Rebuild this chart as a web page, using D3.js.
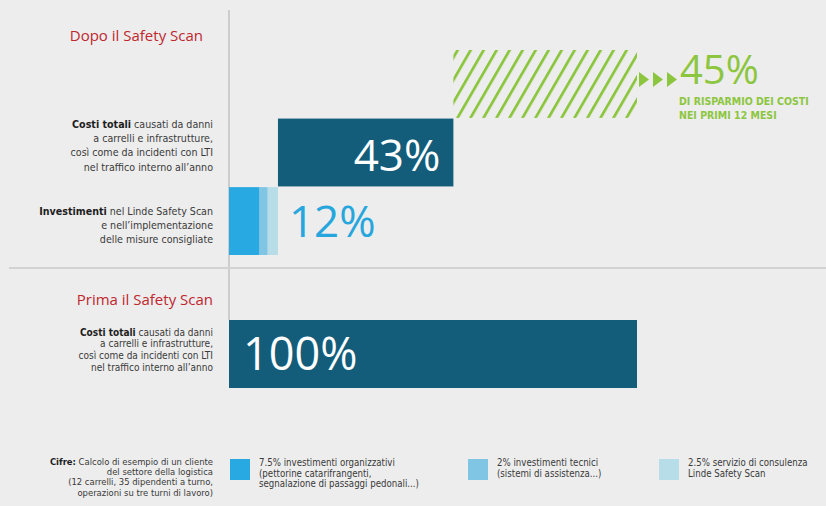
<!DOCTYPE html>
<html><head><meta charset="utf-8">
<script src="https://cdn.jsdelivr.net/npm/d3@7/dist/d3.min.js"></script>
<style>
html,body{margin:0;padding:0;background:#ededed;}
svg{display:block;}
.lab{font-family:'Liberation Sans Narrow','DejaVu Sans Condensed',sans-serif;fill:#3a3a3a;}
.big{font-family:'Open Sans',sans-serif;}
</style></head>
<body>
<script>
// ---- data ----
const investShares = [7.5, 2, 2.5];            // segments of the investment bar (%)
const investLegend = [
  ["7.5% investimenti organizzativi", "(pettorine catarifrangenti,", "segnalazione di passaggi pedonali...)"],
  ["2% investimenti tecnici", "(sistemi di assistenza...)"],
  ["2.5% servizio di consulenza", "Linde Safety Scan"]
];
const afterCost = 43;       // costi totali dopo il Safety Scan (%)
const saving = 45;          // risparmio (%)
const beforeCost = 100;     // costi totali prima (%)
const topRows = ["risparmio", "dopo", "investimenti"];
const bottomRows = ["prima"];
const titleDopo = "Dopo il Safety Scan";
const titlePrima = "Prima il Safety Scan";
const labelCosti = [["Costi totali", " causati da danni"], ["", "a carrelli e infrastrutture,"], ["", "così come da incidenti con LTI"], ["", "nel traffico interno all’anno"]];
const labelInvest = [["Investimenti", " nel Linde Safety Scan"], ["", "e nell’implementazione"], ["", "delle misure consigliate"]];
const labelCifre = [["Cifre:", " Calcolo di esempio di un cliente"], ["", "del settore della logistica"], ["", "(12 carrelli, 35 dipendenti a turno,"], ["", "operazioni su tre turni di lavoro)"]];
const savingText = ["DI RISPARMIO DEI COSTI", "NEI PRIMI 12 MESI"];

// ---- styles ----
const investColors = ["#29a9e1", "#80c6e4", "#b6dde8"];
const teal = "#135d7b", green = "#8cc63f", red = "#c0262d", blueText = "#27a6de";

const W = 826, H = 506;
const svg = d3.select("body").append("svg").attr("width", W).attr("height", H);

const x = d3.scaleLinear().domain([0, 100]).range([229, 637]);
const yTop = d3.scaleBand().domain(topRows).range([50, 255]).paddingInner(0.01);
const yBot = d3.scaleBand().domain(bottomRows).range([320, 388]);
const pct = d => d3.format("d")(d) + "%";

// pattern
const defs = svg.append("defs");
const pat = defs.append("pattern").attr("id", "hatch").attr("patternUnits", "userSpaceOnUse")
  .attr("width", 13).attr("height", 20).attr("patternTransform", "skewX(-30)");
pat.append("rect").attr("x", 4).attr("y", 0).attr("width", 3.2).attr("height", 20).attr("fill", green);

// grid lines
svg.append("line").attr("x1", 229).attr("x2", 229).attr("y1", 10).attr("y2", yBot("prima"))
  .attr("stroke", "#cdcdcd").attr("stroke-width", 2);
svg.append("line").attr("x1", 9).attr("x2", W).attr("y1", 268).attr("y2", 268)
  .attr("stroke", "#d2d2d2").attr("stroke-width", 2);

// investment stacked bar
let acc = 0;
const segs = investShares.map(v => { const s = {x0: acc, x1: acc + v}; acc += v; return s; });
const investTotal = acc;
svg.selectAll("rect.inv").data(segs).join("rect").attr("class", "inv")
  .attr("x", d => x(d.x0)).attr("width", d => x(d.x1) - x(d.x0))
  .attr("y", yTop("investimenti")).attr("height", yTop.bandwidth())
  .attr("fill", (d, i) => investColors[i]);

// after-cost bar
svg.append("rect").attr("x", x(investTotal)).attr("width", x(investTotal + afterCost) - x(investTotal))
  .attr("y", yTop("dopo")).attr("height", yTop.bandwidth()).attr("fill", teal);

// saving hatched
svg.append("rect").attr("x", x(investTotal + afterCost)).attr("width", x(investTotal + afterCost + saving) - x(investTotal + afterCost))
  .attr("y", yTop("risparmio")).attr("height", yTop.bandwidth()).attr("fill", "url(#hatch)");

// before bar
svg.append("rect").attr("x", x(0)).attr("width", x(beforeCost) - x(0))
  .attr("y", yBot("prima")).attr("height", yBot.bandwidth()).attr("fill", teal);

// value labels
svg.append("text").attr("class", "big").attr("x", x(investTotal + afterCost) - 13).attr("y", yTop("dopo") + 52)
  .attr("text-anchor", "end").attr("font-size", 44).attr("fill", "#fff").text(pct(afterCost));
svg.append("text").attr("class", "big").attr("x", x(investTotal) + 11).attr("y", yTop("investimenti") + 50)
  .attr("font-size", 44).attr("fill", blueText).text(pct(investTotal));
svg.append("text").attr("class", "big").attr("x", x(0) + 14).attr("y", yBot("prima") + 50)
  .attr("font-size", 45).attr("fill", "#fff").text(pct(beforeCost));

// arrows + saving text
const ax = x(investTotal + afterCost + saving) + 2;
[0, 14, 28].forEach(o => {
  svg.append("path").attr("d", `M${ax + o},72 L${ax + o + 10},79.5 L${ax + o},87 Z`).attr("fill", green);
});
svg.append("text").attr("class", "big").attr("x", ax + 41).attr("y", 84).attr("font-size", 40)
  .attr("fill", green).text(pct(saving));
savingText.forEach((t, i) => {
  svg.append("text").attr("class", "lab").attr("x", ax + 40).attr("y", 105 + i * 14)
    .attr("font-size", 10.5).attr("font-weight", "bold").style("fill", green).text(t);
});

// titles
svg.append("text").attr("x", 203).attr("y", 41).attr("text-anchor", "end")
  .attr("font-family", "'Open Sans',sans-serif").attr("font-size", 15).attr("fill", red).text(titleDopo);
svg.append("text").attr("x", 213).attr("y", 305).attr("text-anchor", "end")
  .attr("font-family", "'Open Sans',sans-serif").attr("font-size", 15).attr("fill", red).text(titlePrima);

function block(lines, xr, y0, dy, fs) {
  lines.forEach((l, i) => {
    const t = svg.append("text").attr("class", "lab").attr("x", xr).attr("y", y0 + i * dy)
      .attr("text-anchor", "end").attr("font-size", fs);
    if (l[0]) t.append("tspan").attr("font-weight", "bold").style("fill", "#1e1e1e").text(l[0]);
    t.append("tspan").text(l[1]);
  });
}
block(labelCosti, 213, 128, 14.2, 10.6);
block(labelInvest, 213, 215, 14, 10.6);
block(labelCosti, 213, 335.5, 11.7, 10);
block(labelCifre, 213, 465, 10.2, 9.4);

// legend
const legX = [230, 468, 659];
investLegend.forEach((lines, i) => {
  svg.append("rect").attr("x", legX[i]).attr("y", 459).attr("width", 20).attr("height", 21)
    .attr("fill", investColors[i]);
  lines.forEach((t, j) => {
    svg.append("text").attr("class", "lab").attr("x", legX[i] + 29).attr("y", 466 + j * 10.5)
      .attr("font-size", 9.6).text(t);
  });
});
</script>
</body></html>
